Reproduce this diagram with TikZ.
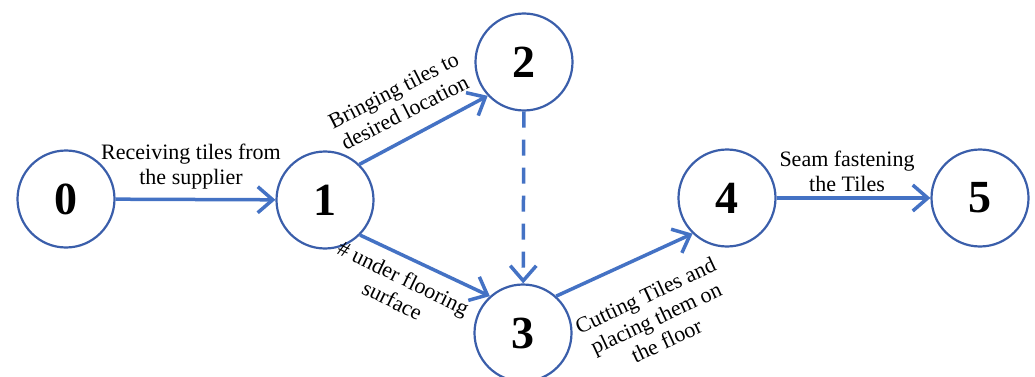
\documentclass[tikz,border=0pt]{standalone}
\usepackage{fontspec}
\setmainfont{Liberation Serif}
\usetikzlibrary{arrows.meta}
\definecolor{circ}{RGB}{58,94,170}
\definecolor{arr}{RGB}{68,114,196}
\begin{document}
\begin{tikzpicture}[x=1pt,y=-1pt,
  state/.style={circle,draw=circ,line width=2.2pt,minimum size=97pt,inner sep=0pt,font=\fontsize{46}{46}\selectfont\bfseries},
  act/.style={draw=arr,line width=3.5pt,-{Straight Barb[length=15pt,width=26pt]}},
  lbl/.style={font=\fontsize{22}{25}\selectfont,align=center,inner sep=0pt}]
\useasboundingbox (0,0) rectangle (1035,377);
\node[state] (n0) at (66,199) {0};
\node[state] (n1) at (325,200) {1};
\node[state] (n2) at (524,62) {2};
\node[state] (n3) at (523,333) {3};
\node[state] (n4) at (727,198) {4};
\node[state] (n5) at (980,198) {5};
\draw[act] (n0) -- (n1);
\draw[act] (n1.46) -- (n2.223);
\draw[act] (n1.-45) -- (n3.132);
\draw[act,dashed,dash pattern=on 16pt off 12pt] (n2) -- (n3);
\draw[act] (n3.48) -- (n4.226);
\draw[act] (n4) -- (n5);
\node[lbl,rotate=0] (l01) at (191,167) {Receiving tiles from\\the supplier};
\node[lbl,rotate=27] (l12) at (399,101) {Bringing tiles to\\desired location};
\node[lbl,rotate=-26] (l13) at (398,289) {\# under flooring\\surface};
\node[lbl,rotate=25] (l34) at (656,318) {Cutting Tiles and\\placing them on\\the floor};
\node[lbl] (l45) at (847,171) {Seam fastening\\the Tiles};
\end{tikzpicture}
\end{document}
